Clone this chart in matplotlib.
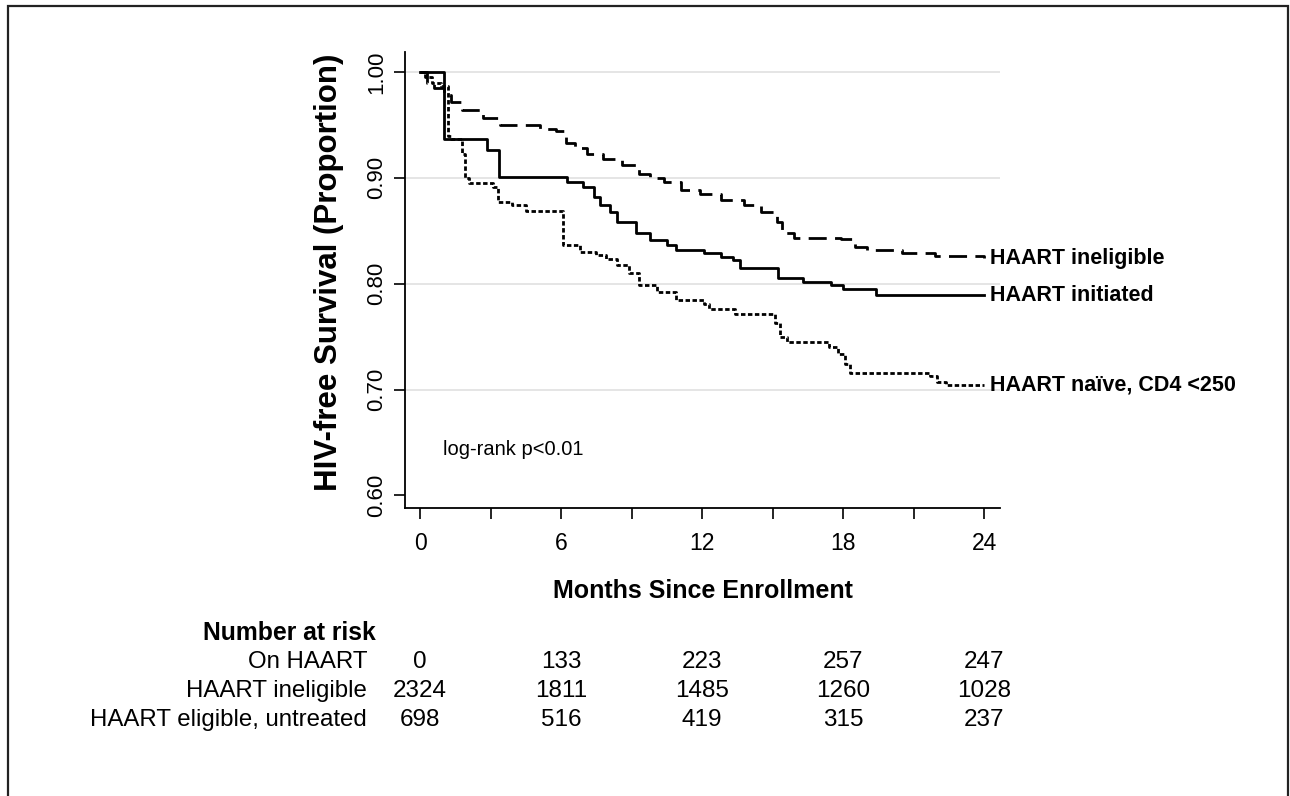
import matplotlib.pyplot as plt
import matplotlib.transforms as mtransforms
from matplotlib.patches import Rectangle

plt.rcParams['font.family'] = ['Liberation Sans', 'DejaVu Sans']

# Kaplan-Meier curves (months, proportion)
t_init = [0, 1.0, 2.85, 3.35, 6.25, 6.95, 7.4, 7.65, 8.1, 8.4, 9.2, 9.8, 10.5, 10.9,
          12.1, 12.8, 13.3, 13.6, 15.25, 16.3, 17.5, 18.0, 19.4, 24]
s_init = [1.00, 0.937, 0.926, 0.901, 0.896, 0.891, 0.882, 0.874, 0.868, 0.8585, 0.8475,
          0.841, 0.8365, 0.832, 0.829, 0.825, 0.822, 0.8145, 0.805, 0.802, 0.7985, 0.795,
          0.789, 0.789]

t_inel = [0, 0.3, 0.6, 1.0, 1.3, 1.8, 2.7, 3.4, 5.1, 5.8, 6.2, 6.6, 7.1, 7.8, 8.6, 9.3,
          9.8, 10.4, 11.1, 11.9, 12.8, 13.8, 14.5, 15.2, 15.4, 15.9, 17.9, 18.5, 19.0,
          20.5, 21.9, 24]
s_inel = [1.00, 0.99, 0.985, 0.978, 0.972, 0.964, 0.957, 0.950, 0.946, 0.944, 0.933,
          0.928, 0.923, 0.9175, 0.912, 0.904, 0.900, 0.896, 0.8885, 0.885, 0.879, 0.874,
          0.868, 0.8585, 0.848, 0.843, 0.842, 0.835, 0.832, 0.829, 0.826, 0.824]

t_naive = [0, 0.2, 0.5, 0.9, 1.2, 1.3, 1.8, 1.93, 2.1, 3.1, 3.3, 3.9, 4.5, 6.1, 6.8, 7.5,
           7.9, 8.4, 8.9, 9.3, 10.1, 10.9, 12.1, 12.3, 13.4, 15.1, 15.3, 15.6, 17.4, 17.8,
           18.1, 18.3, 21.7, 22.0, 22.4, 24]
s_naive = [1.00, 0.995, 0.99, 0.987, 0.94, 0.937, 0.923, 0.8995, 0.895, 0.8916, 0.8775,
           0.874, 0.869, 0.8365, 0.830, 0.827, 0.823, 0.8175, 0.81, 0.7985, 0.7925, 0.7845,
           0.781, 0.776, 0.771, 0.7625, 0.750, 0.745, 0.740, 0.734, 0.7245, 0.716, 0.7127,
           0.707, 0.704, 0.704]

curve_labels = ['HAART ineligible', 'HAART initiated', 'HAART na\u00efve, CD4 <250']

# number at risk table
risk_times = [0, 6, 12, 18, 24]
risk_rows = ['On HAART', 'HAART ineligible', 'HAART eligible, untreated']
risk_on = [0, 133, 223, 257, 247]
risk_inel = [2324, 1811, 1485, 1260, 1028]
risk_elig = [698, 516, 419, 315, 237]

W, H = 1290, 796
fig = plt.figure(figsize=(W / 100, H / 100), dpi=100, facecolor='white')
ax = fig.add_axes([405 / W, 1 - 508 / H, (1000 - 405) / W, (508 - 52) / H])

ax.set_xlim(-0.64, 24.68)
ax.set_ylim(0.588, 1.019)

for y in [0.7, 0.8, 0.9, 1.0]:
    ax.axhline(y, color='#e3e3e3', lw=1.3, zorder=0)

ax.step(t_inel, s_inel, where='post', color='black', lw=2.0, dashes=(6.5, 3))
ax.step(t_init, s_init, where='post', color='black', lw=2.0)
ax.step(t_naive, s_naive, where='post', color='black', lw=2.0, dashes=(1.6, 0.9))

ends = [s_inel[-1], s_init[-1], s_naive[-1]]
for lab, s in zip(curve_labels, ends):
    ax.text(24.25, s, lab, ha='left', va='center', fontsize=15.5, fontweight='bold',
            clip_on=False)

ax.text(0.98, 0.643, 'log-rank p<0.01', fontsize=14.5, ha='left', va='center')

for side in ['top', 'right']:
    ax.spines[side].set_visible(False)
for side in ['left', 'bottom']:
    ax.spines[side].set_linewidth(1.3)

ax.set_xticks(range(0, 25, 6))
ax.set_xticks(range(3, 25, 6), minor=True)
ax.set_yticks([0.6, 0.7, 0.8, 0.9, 1.0])
ax.set_yticklabels(['0.60', '0.70', '0.80', '0.90', '1.00'], rotation=90, va='center')
ax.tick_params(axis='both', which='both', direction='out', length=8, width=1.2, pad=5)
ax.tick_params(axis='x', labelsize=16.5, pad=9)
ax.tick_params(axis='y', labelsize=16)

ax.set_xlabel('Months Since Enrollment', fontsize=18, fontweight='bold')
ax.xaxis.set_label_coords(0.5, -0.155)
ax.set_ylabel('HIV-free Survival (Proportion)', fontsize=22.5, fontweight='bold')
ax.yaxis.set_label_coords(-0.103, 0.517)

# risk table below the plot
blend = mtransforms.blended_transform_factory(ax.transData, fig.transFigure)
fig.text(376 / W, 1 - 633 / H, 'Number at risk', ha='right', va='center',
         fontsize=17.8, fontweight='bold')
row_y = [662, 691, 720]
for lab, vals, yy in zip(risk_rows, [risk_on, risk_inel, risk_elig], row_y):
    fig.text(367 / W, 1 - yy / H, lab, ha='right', va='center', fontsize=17.3)
    for t, v in zip(risk_times, vals):
        ax.text(t, 1 - yy / H, str(v), transform=blend, ha='center', va='center',
                fontsize=17.5, clip_on=False)

fig.patches.append(Rectangle((8 / W, -0.02), (1288 - 8) / W, 1 - 6 / H + 0.02,
                             transform=fig.transFigure, fill=False,
                             edgecolor='#222222', lw=1.6))

fig.savefig('out.png', dpi=100, facecolor='white')
